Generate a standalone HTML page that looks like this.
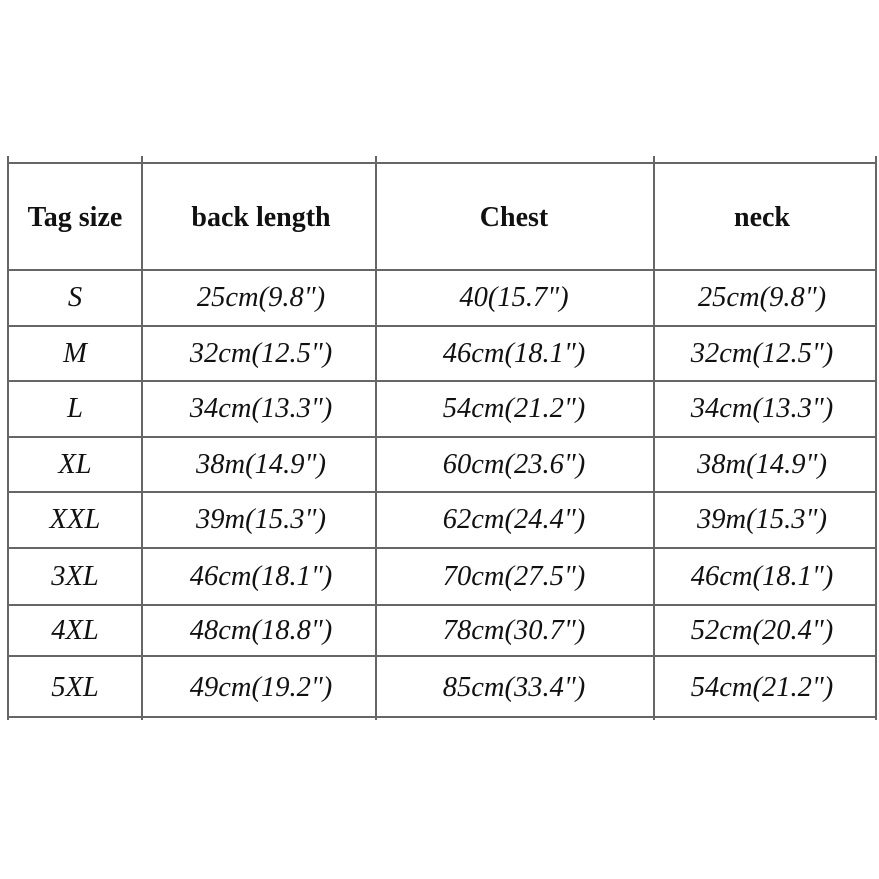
<!DOCTYPE html>
<html><head><style>
body{margin:0;width:879px;height:879px;background:#fff;position:relative;overflow:hidden;font-family:"Liberation Serif",serif;color:#111}
.h{position:absolute;height:2px;background:#666;left:7px;width:870px}
.v{position:absolute;width:2px;background:#666;top:156px;height:564px}
.t{position:absolute;text-align:center;font-size:28.5px;transform:translate(-50%,-50%);white-space:nowrap}
.b{font-weight:bold;font-size:28px}
.i{font-style:italic}
</style></head><body>
<div class="h" style="top:162px"></div>
<div class="h" style="top:269px"></div>
<div class="h" style="top:325px"></div>
<div class="h" style="top:380px"></div>
<div class="h" style="top:436px"></div>
<div class="h" style="top:491px"></div>
<div class="h" style="top:547px"></div>
<div class="h" style="top:604px"></div>
<div class="h" style="top:655px"></div>
<div class="h" style="top:716px"></div>
<div class="v" style="left:7px"></div>
<div class="v" style="left:141px"></div>
<div class="v" style="left:375px"></div>
<div class="v" style="left:653px"></div>
<div class="v" style="left:875px"></div>
<div id="c"></div>
<script>
var xs=[75,261,514,762];
var ys=[218,298,354,409,465,520,577,631,688];
var d=[["Tag size","back length","Chest","neck"],
["S","25cm(9.8\")","40(15.7\")","25cm(9.8\")"],
["M","32cm(12.5\")","46cm(18.1\")","32cm(12.5\")"],
["L","34cm(13.3\")","54cm(21.2\")","34cm(13.3\")"],
["XL","38m(14.9\")","60cm(23.6\")","38m(14.9\")"],
["XXL","39m(15.3\")","62cm(24.4\")","39m(15.3\")"],
["3XL","46cm(18.1\")","70cm(27.5\")","46cm(18.1\")"],
["4XL","48cm(18.8\")","78cm(30.7\")","52cm(20.4\")"],
["5XL","49cm(19.2\")","85cm(33.4\")","54cm(21.2\")"]];
var h="";
d.forEach(function(r,i){r.forEach(function(s,j){h+='<div class="t '+(i?'i':'b')+'" style="left:'+xs[j]+'px;top:'+ys[i]+'px">'+s.replace(/"/g,'&quot;')+'</div>';});});
document.getElementById('c').innerHTML=h;
</script>
</body></html>
